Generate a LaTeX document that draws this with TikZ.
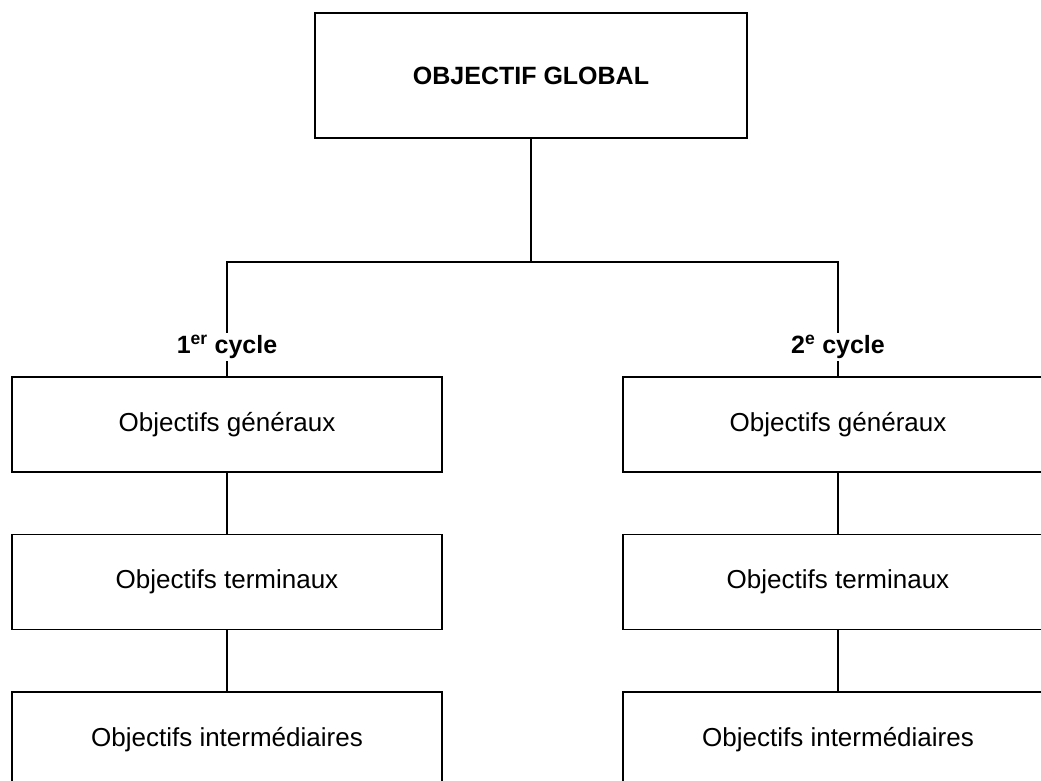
\documentclass[tikz,border=0pt]{standalone}
\usepackage{fontspec}
\setmainfont{Liberation Sans}
\usetikzlibrary{positioning}

\tikzset{
  box/.style = {draw, line width=1.6pt, minimum width=430pt, minimum height=95pt,
                font=\fontsize{26}{31}\selectfont},
  cyclelabel/.style = {fill=white, inner sep=2pt, font=\bfseries\fontsize{25}{30}\selectfont}
}

\begin{document}
\begin{tikzpicture}[x=1pt, y=1pt, node distance = 61pt, line width=1.6pt]
\useasboundingbox (0,0) rectangle (1041,-781);
\clip (0,0) rectangle (1041,-781);
%
\node (global) [box, minimum width=432pt, minimum height=125pt,
                font=\bfseries\fontsize{25}{30}\selectfont] at (531,-75.5) {OBJECTIF GLOBAL};
\coordinate (fork) at (global.south |- 0,-262);
%
\node (gen1)   [box] at (227,-424.5)      {Objectifs généraux};
\node (term1)  [box, below = of gen1]     {Objectifs terminaux};
\node (inter1) [box, below = of term1]    {Objectifs intermédiaires};
\node (gen2)   [box] at (838,-424.5)      {Objectifs généraux};
\node (term2)  [box, below = of gen2]     {Objectifs terminaux};
\node (inter2) [box, below = of term2]    {Objectifs intermédiaires};
%
\draw (global) -- (fork);
\draw (gen1.north) |- (fork) -| (gen2.north);
\foreach \c in {1,2}
  {
  \draw (gen\c) -- (term\c);
  \draw (term\c) -- (inter\c);
  }
%
\node (cyc1) [cyclelabel] at (gen1.north |- 0,-347) {1\textsuperscript{er} cycle};
\node (cyc2) [cyclelabel] at (gen2.north |- 0,-347) {2\textsuperscript{e} cycle};
\end{tikzpicture}
\end{document}
